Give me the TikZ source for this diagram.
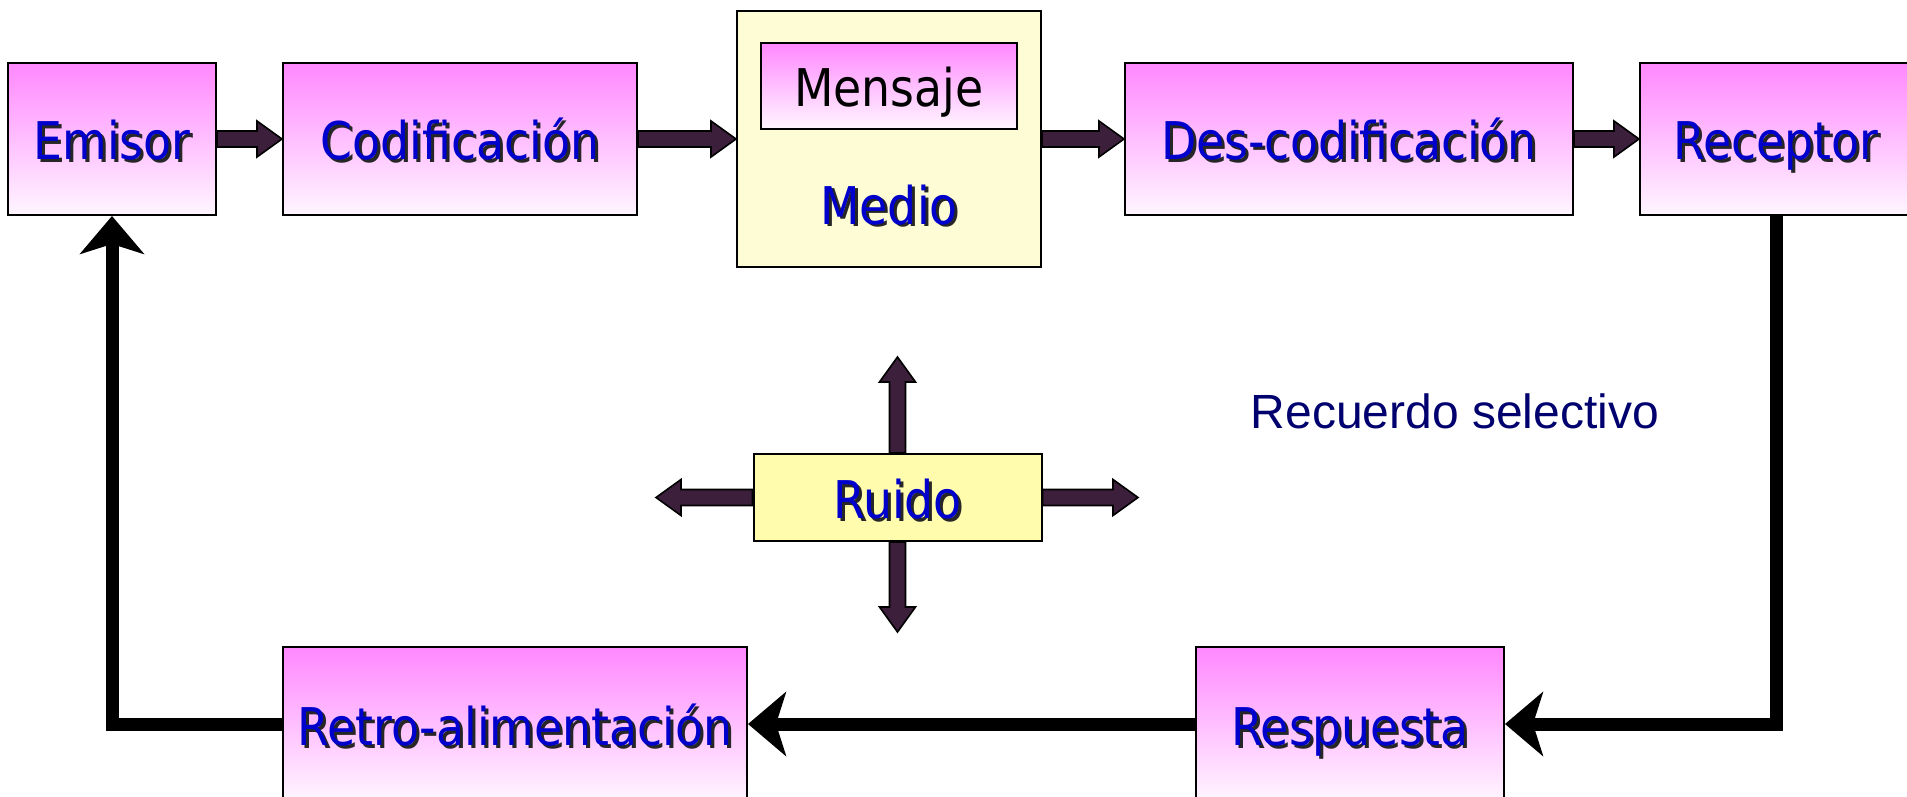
\documentclass[tikz,border=0pt]{standalone}
\usepackage{fontspec}
\usepackage{tikz}
\usetikzlibrary{arrows.meta,calc,positioning}
\newfontfamily\boxfont{DejaVu Sans}[FakeStretch=0.88]
\newfontfamily\notefont{Liberation Sans}
\definecolor{boxpink}{RGB}{255,136,255}
\definecolor{boxwhite}{RGB}{255,246,255}
\definecolor{medioyellow}{RGB}{254,252,212}
\definecolor{ruidoyellow}{RGB}{255,252,173}
\definecolor{arrowpurple}{RGB}{59,31,59}
\definecolor{txtblue}{RGB}{0,0,204}
\definecolor{notenavy}{RGB}{0,0,110}
\newcommand\shtxt[1]{\makebox[0pt][l]{\kern1.5pt\raisebox{-1.5pt}{\color{black!85}#1}}{\color{txtblue}#1}}
% block arrow: from, tip, direction x, direction y
\newcommand\barrow[4]{\draw[blockarr] ($(#1)+({-8*#4},{8*#3})$) -- ($(#2)+({-25*#3-8*#4},{-25*#4+8*#3})$) -- ($(#2)+({-25*#3-18*#4},{-25*#4+18*#3})$) -- (#2) -- ($(#2)+({-25*#3+18*#4},{-25*#4-18*#3})$) -- ($(#2)+({-25*#3+8*#4},{-25*#4-8*#3})$) -- ($(#1)+({8*#4},{-8*#3})$) -- cycle;}

\begin{document}
\begin{tikzpicture}[x=0.5pt,y=-0.5pt]%
\useasboundingbox (0,0) rectangle (1907,797);
\tikzstyle{blockarr}=[draw=black,line width=0.8pt,fill=arrowpurple,line join=miter]
\tikzstyle{fback}=[draw=black,line width=6.5pt,-{Stealth[length=19pt,width=32pt,inset=5pt]}]
\begin{scope}[inner sep=0pt,text height=23pt,text depth=2pt,font=\boxfont\fontsize{26pt}{30pt}\selectfont]%
\tikzstyle{every node}=[draw,line width=1pt,top color=boxpink,bottom color=boxwhite] %%
\node[minimum width=104pt,minimum height=76pt] (emisor) at (112,139) {\shtxt{Emisor}}; %%
\node[minimum width=177pt,minimum height=76pt] (codif) at (460,139) {\shtxt{Codificación}}; %%
\node[minimum width=152pt,minimum height=127.5pt,fill=medioyellow,top color=medioyellow,bottom color=medioyellow] (medio) at (889,139) {}; %%
\node[minimum width=128pt,minimum height=43pt] (mensaje) at (889,86) {Mensaje}; %%
\node[draw=none,shade=none,fill=none] (mediotxt) at (889,203) {\shtxt{Medio}}; %%
\node[minimum width=224pt,minimum height=76pt] (descod) at (1349,139) {\shtxt{Des-codificación}}; %%
\node[minimum width=136pt,minimum height=76pt] (receptor) at (1776,139) {\shtxt{Receptor}}; %%
\node[minimum width=144pt,minimum height=43.5pt,top color=ruidoyellow,bottom color=ruidoyellow] (ruido) at (897.5,497.5) {\shtxt{Ruido}}; %%
\node[minimum width=232pt,minimum height=77pt] (retro) at (515,724) {\shtxt{Retro-alimentación}}; %%
\node[minimum width=154pt,minimum height=77pt] (respuesta) at (1350,724) {\shtxt{Respuesta}}; %%
\end{scope}
\node[text=notenavy,font=\notefont\fontsize{24pt}{28pt}\selectfont] (recuerdo) at (1455,411) {Recuerdo selectivo};%
\coordinate (rup) at (897.5,357);%
\coordinate (rdown) at (897.5,632);%
\coordinate (rleft) at (656,497.5);%
\coordinate (rright) at (1138,497.5);%
\barrow{emisor.east}{codif.west}{1}{0} %%
\barrow{codif.east}{medio.west}{1}{0} %%
\barrow{medio.east}{descod.west}{1}{0} %%
\barrow{descod.east}{receptor.west}{1}{0} %%
\barrow{ruido.north}{rup}{0}{-1} %%
\barrow{ruido.south}{rdown}{0}{1} %%
\barrow{ruido.west}{rleft}{-1}{0} %%
\barrow{ruido.east}{rright}{1}{0} %%
\draw[fback] (receptor.south) |- (respuesta.east); %%
\draw[fback] (respuesta.west) -- (retro.east); %%
\draw[fback] (retro.west) -| (emisor.south); %%
\end{tikzpicture}
\end{document}
